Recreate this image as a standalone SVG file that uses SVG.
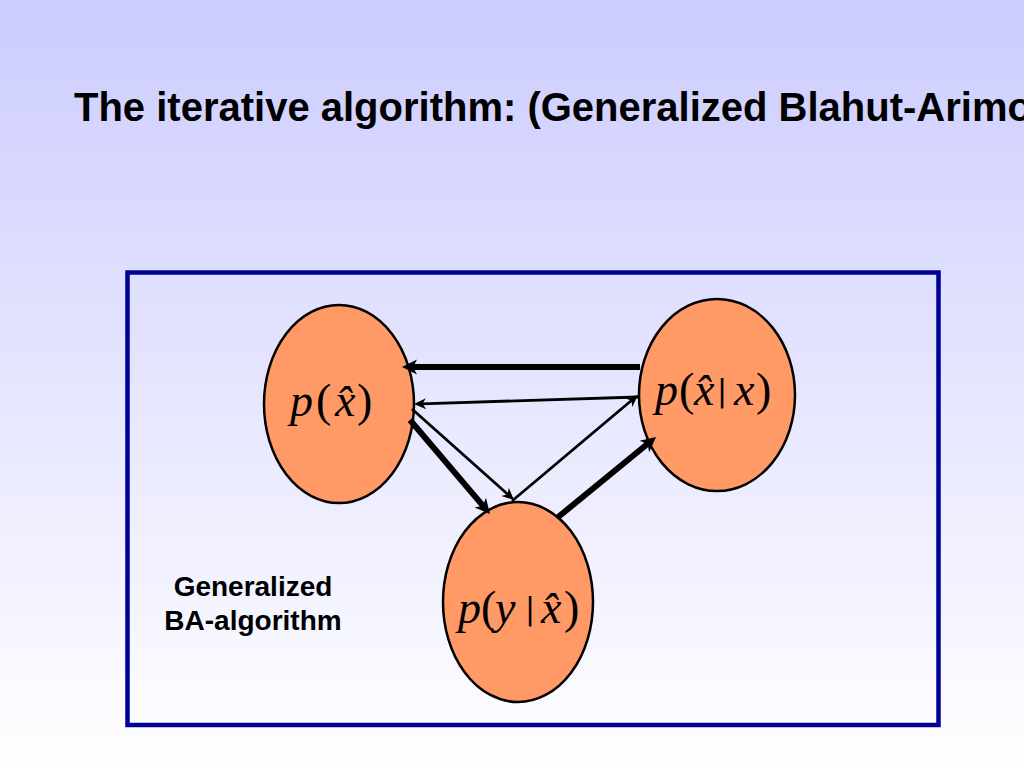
<svg xmlns="http://www.w3.org/2000/svg" width="1024" height="768" viewBox="0 0 1024 768">
  <defs>
    <linearGradient id="bg" x1="0" y1="0" x2="0" y2="1">
      <stop offset="0" stop-color="#CCCCFF"/>
      <stop offset="1" stop-color="#FFFFFF"/>
    </linearGradient>
    <marker id="ahThick" markerUnits="userSpaceOnUse" markerWidth="20" markerHeight="18" viewBox="-16 -9 18 18" refX="-10" refY="0" orient="auto">
      <path d="M0,0 L-15,-7.5 L-11,0 L-15,7.5 Z" fill="#000"/>
    </marker>
    <marker id="ahThin" markerUnits="userSpaceOnUse" markerWidth="16" markerHeight="14" viewBox="-13 -7 14 14" refX="-7" refY="0" orient="auto">
      <path d="M0,0 L-12,-5.5 L-8.5,0 L-12,5.5 Z" fill="#000"/>
    </marker>
    <style>
      .title { font-family: "Liberation Sans", Arial, sans-serif; font-weight: bold; font-size: 40px; fill: #000; }
      .lbl { font-family: "Liberation Sans", Arial, sans-serif; font-weight: bold; font-size: 28px; fill: #000; }
      .node { fill: #FF9966; stroke: #000; stroke-width: 2.5; }
      .m { font-family: "Liberation Serif", "Times New Roman", serif; font-size: 46px; fill: #000; }
      .it { font-style: italic; }
      .bar { font-family: "DejaVu Sans", sans-serif; font-size: 30px; fill: #000; }
      .thick { stroke: #000; stroke-width: 6; fill: none; marker-end: url(#ahThick); }
      .thin { stroke: #000; stroke-width: 2.8; fill: none; marker-end: url(#ahThin); }
    </style>
  </defs>

  <rect x="0" y="0" width="1024" height="768" fill="url(#bg)"/>

  <text class="title" x="74" y="121">The iterative algorithm: (Generalized Blahut-Arimoto)</text>

  <rect x="127.5" y="272.5" width="811" height="452.5" fill="none" stroke="#000099" stroke-width="4.5"/>

  <g id="label-ba">
    <text class="lbl" x="253" y="596" text-anchor="middle">Generalized</text>
    <text class="lbl" x="253" y="630" text-anchor="middle">BA-algorithm</text>
  </g>

  <g id="node-px">
    <ellipse class="node" cx="339" cy="404" rx="75" ry="99"/>
    <text class="m">
      <tspan class="it" x="290" y="416">p</tspan><tspan x="316" y="416">(</tspan><tspan class="it" x="335" y="416">x̂</tspan><tspan x="357" y="416">)</tspan>
    </text>
  </g>

  <g id="node-pxx">
    <ellipse class="node" cx="717" cy="395" rx="78" ry="96"/>
    <text class="m">
      <tspan class="it" x="655" y="405">p</tspan><tspan x="679" y="405">(</tspan><tspan class="it" x="694" y="405">x̂</tspan><tspan x="756" y="405">)</tspan>
    </text>
    <text class="bar" x="717" y="401">|</text>
    <text class="m it" x="734" y="405">x</text>
  </g>

  <g id="node-pyx">
    <ellipse class="node" cx="518" cy="602" rx="75" ry="100"/>
    <text class="m">
      <tspan class="it" x="458" y="623">p</tspan><tspan x="481" y="623">(</tspan><tspan class="it" x="495" y="623">y</tspan><tspan x="564" y="623">)</tspan>
    </text>
    <text class="bar" x="525" y="619">|</text>
    <text class="m it" x="541" y="623">x̂</text>
  </g>

  <g id="connectors">
    <line class="thick" x1="640" y1="367" x2="412" y2="367"/>
    <line class="thin" x1="638" y1="397" x2="421" y2="403.8"/>
    <line class="thin" x1="412" y1="409" x2="508.8" y2="495.3"/>
    <line class="thin" x1="512" y1="501" x2="632.6" y2="399.5"/>
    <line class="thick" x1="410" y1="420" x2="483.5" y2="506.4"/>
    <line class="thick" x1="557" y1="518" x2="648.3" y2="443.3"/>
  </g>
</svg>
